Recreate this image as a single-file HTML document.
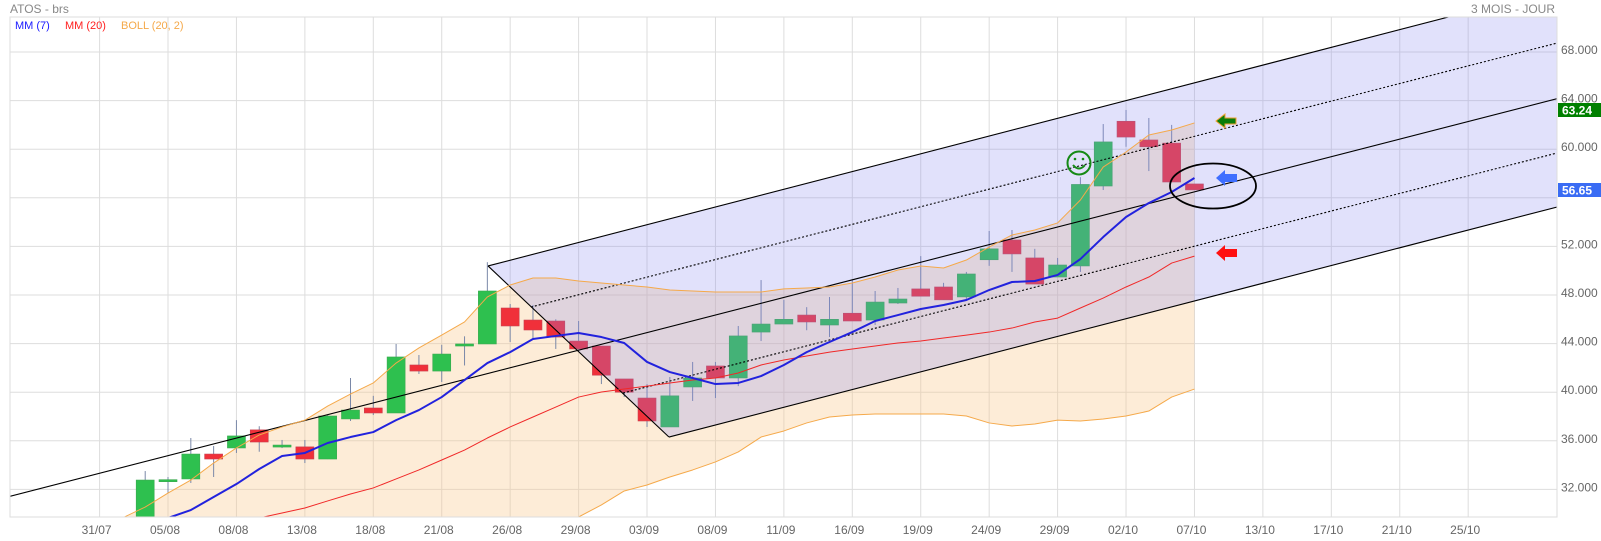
<!DOCTYPE html>
<html><head><meta charset="utf-8"><style>
html,body{margin:0;padding:0;background:#fff;width:1601px;height:541px;overflow:hidden;}
svg{display:block;font-family:"Liberation Sans",Arial,sans-serif;overflow:hidden;}
</style></head><body>
<svg id="chart" width="1601" height="541" viewBox="0 0 1601 541" xmlns="http://www.w3.org/2000/svg">
<defs><clipPath id="plotclip"><rect x="10" y="17" width="1547" height="500"/></clipPath></defs>
<text x="10" y="13" font-size="12" fill="#888">ATOS - brs</text>
<text x="1555" y="13" font-size="12" fill="#888" text-anchor="end">3 MOIS - JOUR</text>
<g id="grid"></g>
<g id="plot" clip-path="url(#plotclip)"></g>
<rect x="10" y="17" width="1547" height="500" fill="none" stroke="#ddd"/>
<g id="axes"></g>
<g font-size="11">
<text x="15" y="29" fill="#1a1aff">MM (7)</text>
<text x="65" y="29" fill="#ff2020">MM (20)</text>
<text x="121" y="29" fill="#f5a94a">BOLL (20, 2)</text>
</g>
<g>
<g stroke="#168a16" fill="none" stroke-width="2">
<circle cx="1079" cy="163" r="11.5"/>
<circle cx="1075" cy="159" r="1.3" fill="#168a16" stroke="none"/>
<circle cx="1083" cy="159" r="1.3" fill="#168a16" stroke="none"/>
<path d="M1073 165 Q1079 172 1085 165"/>
</g>
<polygon points="1216,121 1225,114 1225,118 1236,118 1236,124 1225,124 1225,128" fill="#0a7d0a" stroke="#f0a030" stroke-width="1"/>
<polygon points="1216,178 1225,170 1225,174 1237,174 1237,182 1225,182 1225,186" fill="#3f6fff"/>
<polygon points="1216,253 1225,245 1225,249 1237,249 1237,257 1225,257 1225,261" fill="#ff1010"/>
<ellipse cx="1213" cy="186" rx="43" ry="22.5" fill="none" stroke="#000" stroke-width="1.8"/>
</g>
<rect x="1558" y="103" width="43" height="14" fill="#008000"/>
<text x="1562" y="114.5" font-size="12" font-weight="bold" fill="#fff">63.24</text>
<rect x="1558" y="183" width="43" height="14" fill="#3a6cf4"/>
<text x="1562" y="194.5" font-size="12" font-weight="bold" fill="#fff">56.65</text>
</svg>
<script>
const opens=[29.5,32.77,32.86,34.91,35.41,36.9,35.5,35.5,34.5,37.8,38.7,38.29,42.24,41.74,43.8,43.97,46.93,45.94,45.86,44.21,43.8,41.09,39.52,37.14,40.43,42.16,41.17,44.95,45.61,46.35,45.53,46.5,45.94,47.34,48.5,48.66,47.84,50.9,52.53,51.05,49.48,50.39,56.97,62.3,60.76,60.5,57.14];
const highs=[33.51,33.02,36.23,35.57,37.7,37.2,36.07,36.07,38.12,41.17,39.7,43.97,43.06,43.9,44.6,50.7,47.26,47.18,46.0,45.86,43.8,41.09,40.67,41.25,42.49,42.49,45.45,49.23,47.6,47.0,47.84,49.23,48.33,48.58,51.2,49.0,49.9,53.27,53.35,51.8,51.05,57.7,62.07,63.23,62.57,62.0,57.14];
const lows=[29.0,31.7,32.53,33.02,35.0,35.1,35.4,34.17,34.5,37.63,38.12,38.29,41.5,40.84,42.2,43.97,44.13,44.38,43.56,43.56,40.67,39.6,37.14,37.14,39.28,39.52,40.5,44.21,45.61,45.1,44.54,45.86,45.53,47.26,47.9,47.6,47.6,50.4,49.9,48.9,49.48,49.9,56.64,60.2,58.2,57.3,56.65];
const closes=[32.77,32.8,34.91,34.5,36.4,35.9,35.65,34.5,38.04,38.53,38.29,42.9,41.74,43.14,43.97,48.33,45.45,45.12,44.54,43.56,41.4,40.0,37.63,39.7,41.17,41.17,44.63,45.61,46.0,45.78,46.0,45.86,47.42,47.67,47.9,47.6,49.73,51.8,51.38,48.9,50.47,57.1,60.6,61.0,60.2,57.3,56.65];
const mm7=[29.65,30.3,31.37,32.44,33.68,34.75,35.0,35.82,36.31,36.72,37.7,38.53,39.6,41.0,42.4,43.3,44.38,44.63,44.87,44.54,44.05,42.49,41.66,41.17,40.67,40.76,41.33,42.24,43.3,44.13,44.95,45.86,46.35,46.85,47.18,47.59,48.41,49.07,49.15,49.65,50.96,52.77,54.42,55.57,56.48,57.63];
const mm7Start=1;
const mm20=[29.65,30.06,30.47,31.05,31.62,32.12,32.86,33.6,34.42,35.24,36.23,37.14,37.96,38.78,39.6,40.02,40.26,40.5,40.76,41.0,41.17,41.58,42.24,42.65,42.98,43.3,43.56,43.8,44.05,44.21,44.46,44.7,44.95,45.28,45.78,46.1,46.93,47.75,48.66,49.48,50.63,51.2];
const mm20Start=5;
const bollUpper=[29.65,29.65,29.65,29.65,29.65,29.65,30.55,31.7,32.77,34.17,35.41,36.48,37.14,37.7,38.86,39.85,40.76,42.4,43.64,44.7,45.78,47.84,48.82,49.4,49.4,49.15,48.99,48.82,48.66,48.41,48.33,48.25,48.25,48.25,48.5,48.58,48.66,48.99,49.48,50.06,50.39,50.22,50.88,51.95,52.94,53.35,53.93,55.82,58.53,59.77,61.17,61.58,62.16];
const bollLower=[29.6,29.6,29.6,29.6,29.6,29.6,29.0,29.0,29.0,29.0,29.0,29.0,29.0,29.0,29.0,29.0,29.0,29.0,29.0,29.0,29.0,29.1,29.2,29.3,29.5,29.73,30.72,31.87,32.36,33.02,33.6,34.26,35.08,36.31,36.81,37.47,37.96,38.12,38.21,38.21,38.21,38.21,38.04,37.47,37.22,37.38,37.7,37.63,37.79,38.04,38.45,39.6,40.26];
const bollStart=-6;
const chanUpper=[[15.03,50.39],[61.9,73.2]];
const chanDotUp=[[16.91,47.01],[61.9,68.74]];
const chanCenter=[[-5.93,31.43],[61.9,64.16]];
const chanDotLow=[[20.95,39.93],[61.9,59.69]];
const chanLower=[[22.96,36.31],[61.9,55.24]];
const yTicks=[68,64,60,56,52,48,44,40,36,32];
const xTickLabels=["31/07","05/08","08/08","13/08","18/08","21/08","26/08","29/08","03/09","08/09","11/09","16/09","19/09","24/09","29/09","02/10","07/10","13/10","17/10","21/10","25/10"];
const xTickStart=-2, xTickStep=3;

const NS="http://www.w3.org/2000/svg";
const xOf=i=>145.2+22.81*i;
const yOf=v=>52+(68-v)*12.15;
function mk(tag,attrs,parent){const e=document.createElementNS(NS,tag);for(const k in attrs)e.setAttribute(k,attrs[k]);parent.appendChild(e);return e;}
const grid=document.getElementById('grid'),plot=document.getElementById('plot'),axes=document.getElementById('axes');

yTicks.forEach(v=>{
  const l=mk('line',{x1:10,x2:1557,y1:yOf(v),y2:yOf(v),stroke:'#ddd'},grid);
  
  
  if(v!==56){
    const t=mk('text',{x:1561,y:yOf(v)+2,'font-size':12,fill:'#666'},axes);
    
    
    t.textContent=v.toFixed(3);
  }
});
xTickLabels.forEach((lab,k)=>{
  const x=xOf(xTickStart+k*xTickStep);
  const l=mk('line',{x1:x,x2:x,y1:17,y2:517,stroke:'#ddd'},grid);
  
  
  const t=mk('text',{x:x-3,y:534,'font-size':12,fill:'#666','text-anchor':'middle'},axes);
  
  
  t.textContent=lab;
});

let up=bollUpper.map((v,k)=>xOf(bollStart+k)+','+yOf(v));
let lo=bollLower.map((v,k)=>xOf(bollStart+k)+','+yOf(v)).reverse();
const bf=mk('polygon',{points:up.concat(lo).join(' '),fill:'rgba(250,200,140,0.35)'},plot);



opens.forEach((o,i)=>{
  const c=closes[i],x=xOf(i),bull=c>=o;
  const w=mk('line',{x1:x,x2:x,y1:yOf(highs[i]),y2:yOf(lows[i]),stroke:'#7a88a8'},plot);
  
  
  const top=yOf(Math.max(o,c)),bot=yOf(Math.min(o,c));
  const r=mk('rect',{x:x-9,y:top,width:18,height:Math.max(bot-top,2),fill:bull?'#2ec04f':'#f0303a',stroke:bull?'#3aa84f':'#c8404f','stroke-width':0.6},plot);
  
  
});

const P=p=>xOf(p[0])+','+yOf(p[1]);
const cf=mk('polygon',{points:[P(chanUpper[0]),P(chanUpper[1]),P(chanLower[1]),P(chanLower[0])].join(' '),fill:'rgba(137,137,239,0.25)'},plot);



function seg(a,b,dash,name){
  const l=mk('line',{x1:xOf(a[0]),y1:yOf(a[1]),x2:xOf(b[0]),y2:yOf(b[1]),stroke:'#000','stroke-width':1.1},plot);
  if(dash)l.setAttribute('stroke-dasharray','2,2');
  
  
}
seg(chanUpper[0],chanUpper[1],false,'channel-upper-line');
seg(chanDotUp[0],chanDotUp[1],true,'channel-upper-dotted-line');
seg(chanCenter[0],chanCenter[1],false,'channel-center-line');
seg(chanDotLow[0],chanDotLow[1],true,'channel-lower-dotted-line');
seg(chanLower[0],chanLower[1],false,'channel-lower-line');
seg(chanUpper[0],chanLower[0],false,'channel-diagonal-line');

function poly(arr,start,color,width,name){
  const pts=arr.map((v,k)=>xOf(start+k)+','+yOf(v)).join(' ');
  const p=mk('polyline',{points:pts,fill:'none',stroke:color,'stroke-width':width,'stroke-linejoin':'round'},plot);
  
  
}
poly(bollUpper,bollStart,'#f5a94a',1,'bollinger-upper-line');
poly(bollLower,bollStart,'#f5a94a',1,'bollinger-lower-line');
poly(mm20,mm20Start,'#f02828',1,'mm20-line');
poly(mm7,mm7Start,'#2222dd',2,'mm7-line');
</script>
</body></html>
